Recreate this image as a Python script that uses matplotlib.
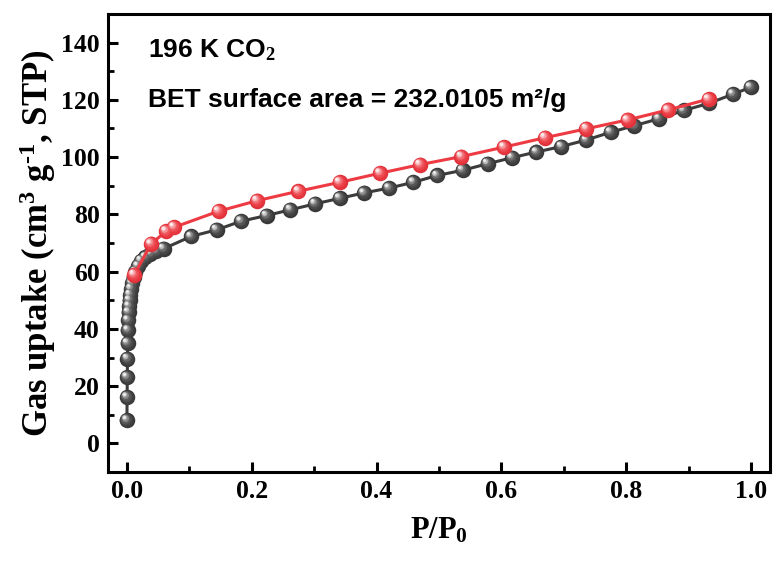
import matplotlib
matplotlib.use("Agg")
import matplotlib.pyplot as plt
from matplotlib.transforms import ScaledTranslation
from matplotlib.ticker import MultipleLocator

plt.rcParams["mathtext.fontset"] = "custom"
plt.rcParams["mathtext.rm"] = "Liberation Serif:bold"
plt.rcParams["mathtext.bf"] = "Liberation Serif:bold"
plt.rcParams["mathtext.default"] = "bf"

# adsorption branch (black)
p_ads = [0.0003, 0.0006, 0.0009, 0.0012, 0.0015, 0.0019, 0.0024, 0.003, 0.0037,
         0.0045, 0.0055, 0.0068, 0.0085, 0.011, 0.014, 0.018, 0.023, 0.03, 0.038,
         0.047, 0.059, 0.103, 0.144, 0.183, 0.224, 0.262, 0.302, 0.341, 0.380,
         0.420, 0.459, 0.497, 0.538, 0.578, 0.617, 0.656, 0.696, 0.736, 0.775,
         0.813, 0.852, 0.892, 0.932, 0.971, 0.999]
q_ads = [8.1, 16.2, 23.1, 29.6, 35.0, 39.5, 43.0, 45.8, 48.0, 50.0, 52.0, 54.0,
         56.0, 58.0, 60.0, 62.0, 63.8, 65.0, 66.3, 67.2, 68.0, 72.3, 74.6, 77.6,
         79.6, 81.6, 83.7, 85.6, 87.5, 89.2, 91.2, 93.6, 95.4, 97.7, 99.8, 101.8,
         103.7, 106.0, 108.7, 111.0, 113.4, 116.3, 118.8, 122.0, 124.4]

# desorption branch (red)
p_des = [0.012, 0.039, 0.063, 0.076, 0.147, 0.209, 0.275, 0.341, 0.406, 0.470,
         0.536, 0.604, 0.670, 0.736, 0.802, 0.867, 0.932]
q_des = [58.9, 69.7, 74.1, 75.5, 81.1, 84.8, 88.1, 91.2, 94.4, 97.4, 100.2,
         103.5, 106.8, 109.9, 113.0, 116.5, 120.3]

fig = plt.figure(figsize=(7.73, 5.61), dpi=100)
ax = fig.add_axes([108 / 773, 1 - 472 / 561, (770 - 108) / 773, (472 - 14) / 561])


def shiny(x, y, shades, z):
    # fake sphere: stacked circles shrinking and drifting toward the upper left
    n = len(shades)
    for i, c in enumerate(shades):
        frac = i / (n - 1)
        size = 15.5 * (1 - 0.82 * frac)
        off = ScaledTranslation(-2.4 * frac / 72, 2.4 * frac / 72, fig.dpi_scale_trans)
        ax.plot(x, y, ls="none", marker="o", ms=size * 0.72, mfc=c, mec="none",
                transform=ax.transData + off, zorder=z + i * 0.01)


ax.plot(p_ads, q_ads, color="#3c3c3c", lw=2.2, zorder=2)
shiny(p_ads, q_ads, ["#383838", "#3f3f3f", "#474747", "#555555", "#6a6a6a",
                     "#8c8c8c", "#c4c4c4", "#f0f0f0"], 3)

ax.plot(p_des, q_des, color="#ee3a42", lw=2.2, zorder=4)
shiny(p_des, q_des, ["#e0323a", "#e6363e", "#eb3f47", "#ee5058", "#f06a70",
                     "#f4959a", "#f9c8ca", "#fdf0f0"], 5)

ax.set_xlim(-0.03, 1.03)
ax.set_ylim(-10, 150)
ax.xaxis.set_minor_locator(MultipleLocator(0.1))
ax.yaxis.set_minor_locator(MultipleLocator(10))
ax.set_xticks([0, 0.2, 0.4, 0.6, 0.8, 1.0])
ax.set_xticklabels(["0.0", "0.2", "0.4", "0.6", "0.8", "1.0"])
ax.set_yticks(range(0, 141, 20))

for s in ax.spines.values():
    s.set_linewidth(2.2)
ax.tick_params(which="major", direction="in", length=7, width=2.2,
               labelsize=18.5, pad=6)
ax.tick_params(which="minor", direction="in", length=4, width=2.0)
for lab in ax.get_xticklabels() + ax.get_yticklabels():
    lab.set_fontfamily("Liberation Serif")
    lab.set_fontweight("bold")

ax.set_xlabel("P/P$_0$", fontfamily="Liberation Serif",
              fontweight="bold", fontsize=22, labelpad=9)
ax.set_ylabel("Gas uptake (cm$^3$ g$^{\\text{-1}}$, STP)",
              fontfamily="Liberation Serif", fontweight="bold", fontsize=25,
              labelpad=2)

fig.text(148 / 773, 1 - 50 / 561, "196 K CO$_2$",
         fontfamily="Liberation Sans", fontweight="bold", fontsize=19,
         va="center", ha="left")
fig.text(148 / 773, 1 - 100 / 561, "BET surface area = 232.0105 m²/g",
         fontfamily="Liberation Sans", fontweight="bold", fontsize=19,
         va="center", ha="left")

fig.savefig("out.png", dpi=100)
